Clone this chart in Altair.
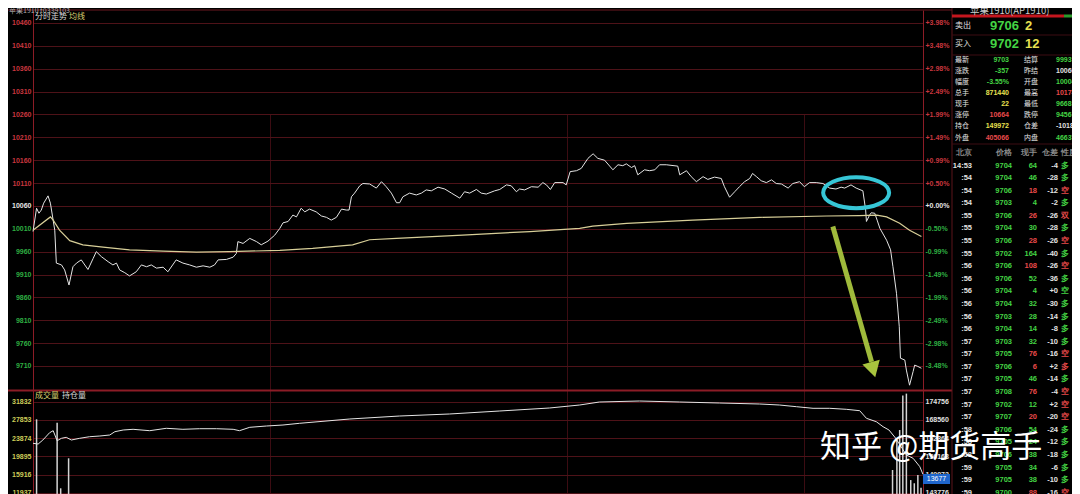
import json
import altair as alt
import pandas as pd

# ---------------- data ----------------
PREV_SETTLE = 10060
PRICE_TICKS = [10460, 10410, 10360, 10310, 10260, 10210, 10160, 10110,
               10060, 10010, 9960, 9910, 9860, 9810, 9760, 9710]
PCT_LABELS = ["+3.98%", "+3.48%", "+2.98%", "+2.49%", "+1.99%", "+1.49%", "+0.99%", "+0.50%",
              "+0.00%", "-0.50%", "-0.99%", "-1.49%", "-1.99%", "-2.49%", "-2.98%", "-3.48%"]
VOL_TICKS = [31832, 27853, 23874, 19895, 15916, 11937]
OI_TICKS = [174756, 168560, 162364, 156168, 149972, 143776]
SESSION_LINES = [60, 135, 195]          # minutes from open (10:00, 11:30/13:30, 14:30)

# (minute, price) of the tick line
PRICE_POINTS = [
    (0, 10004), (0.9, 10055), (1.5, 10044), (2.1, 10051), (2.7, 10066), (3.8, 10082), (4.4, 10066),
    (5.5, 10007), (5.9, 9935), (7.2, 9931), (8.0, 9920), (9.1, 9887), (10.1, 9927), (11.0, 9935),
    (12.2, 9942), (13.9, 9921), (15.2, 9945), (16.0, 9960), (17.3, 9949), (19.0, 9938), (20.2, 9931),
    (21.1, 9935), (21.9, 9920), (23.2, 9914), (24.4, 9907), (26.1, 9916), (27.4, 9931), (28.7, 9927),
    (29.9, 9931), (31.2, 9924), (32.9, 9926), (34.1, 9916), (36.2, 9942), (37.9, 9935), (39.6, 9931),
    (41.3, 9926), (43.0, 9929), (44.7, 9926), (45.9, 9931), (46.8, 9942), (48.9, 9943), (50.6, 9948),
    (51.4, 9956), (51.8, 9982), (53.1, 9978), (54.8, 9989), (56.5, 9982), (57.7, 9975), (59.4, 9983),
    (61.1, 9996), (62.4, 10011), (63.2, 10023), (64.5, 10026), (65.7, 10040), (66.6, 10036),
    (67.8, 10055), (68.7, 10047), (69.9, 10053), (71.6, 10047), (72.9, 10038), (74.2, 10035),
    (75.4, 10029), (76.7, 10035), (78.0, 10053), (79.2, 10051), (79.9, 10051), (80.5, 10080),
    (81.3, 10088), (82.6, 10104), (83.4, 10109), (85.1, 10108), (86.8, 10099), (88.1, 10113),
    (89.3, 10102), (90.6, 10088), (91.9, 10067), (92.7, 10067), (93.5, 10080), (95.2, 10088),
    (96.9, 10084), (98.2, 10088), (99.4, 10095), (100.7, 10093), (102.4, 10101), (104.1, 10097),
    (105.8, 10088), (107.9, 10077), (109.1, 10091), (110.4, 10088), (112.1, 10096), (113.3, 10088),
    (114.6, 10086), (116.7, 10093), (118.0, 10096), (119.7, 10106), (120.9, 10104), (122.2, 10091),
    (123.0, 10097), (124.3, 10095), (126.0, 10102), (127.7, 10101), (128.9, 10111), (129.8, 10106),
    (130.8, 10096), (131.9, 10111), (134.0, 10111), (134.8, 10106), (135.8, 10135), (137.4, 10137),
    (138.6, 10142), (140.3, 10164), (141.6, 10174), (142.8, 10164), (144.5, 10160), (146.6, 10139),
    (147.9, 10150), (149.1, 10148), (150.0, 10152), (151.3, 10144), (152.1, 10148), (152.9, 10128),
    (154.6, 10139), (155.9, 10137), (157.2, 10139), (158.4, 10150), (160.1, 10150), (163.0, 10147),
    (163.5, 10128), (165.2, 10137), (166.4, 10124), (167.7, 10113), (169.4, 10124), (170.6, 10118),
    (172.3, 10123), (174.0, 10120), (174.8, 10102), (176.1, 10079), (177.4, 10091), (178.6, 10102),
    (179.9, 10113), (181.2, 10120), (181.9, 10131), (182.9, 10124), (184.1, 10115), (185.4, 10111),
    (186.7, 10117), (187.9, 10109), (189.2, 10108), (190.9, 10099), (192.1, 10109), (193.8, 10113),
    (195.0, 10102), (196.3, 10111), (198.0, 10111), (199.7, 10109), (201.4, 10099), (203.0, 10097),
    (204.3, 10101), (205.2, 10099), (206.8, 10106), (208.1, 10099), (209.8, 10093), (210.5, 10051),
    (210.7, 10026), (211.5, 10040), (211.9, 10045), (212.8, 10044), (213.4, 10029), (214.1, 10011),
    (215.8, 9985), (216.8, 9964), (217.4, 9927), (218.3, 9869), (219.0, 9796), (219.3, 9727),
    (220.4, 9723), (220.8, 9701), (221.6, 9668), (222.5, 9698), (222.9, 9712), (223.7, 9709),
    (224.6, 9705),
]
# (minute, average price) – 均线
AVG_POINTS = [
    (0, 10007), (4.4, 10036), (5.1, 10029), (6.7, 10007), (9.3, 9984), (12.6, 9975), (17.7, 9970),
    (24.4, 9964), (32.9, 9961), (41.3, 9959), (49.7, 9960), (62.4, 9963), (70.7, 9967), (80.8, 9975),
    (85.1, 9986), (91.9, 9989), (108.6, 9996), (125.6, 10004), (138.2, 10011), (141.5, 10016),
    (150.1, 10022), (166.8, 10029), (183.7, 10035), (200.6, 10038), (208.9, 10039), (213.3, 10040),
    (215.8, 10036), (219.1, 10022), (221.6, 10007), (224.6, 9993),
]
# (minute, volume) – 成交量 bars that are visible
VOL_POINTS = [
    (0.9, 27984), (6.1, 27241), (7.0, 12900), (9.0, 19458), (217.3, 16900), (218.4, 23459),
    (219.1, 25640), (219.9, 33200), (220.8, 33600), (221.9, 14700), (222.8, 14000), (223.7, 15800),
    (224.5, 13000),
]
# (minute, open interest) – 持仓量
OI_POINTS = [
    (0, 160594), (1.3, 160350), (2.5, 161714), (4.2, 164203), (5.1, 164884), (6.1, 161479),
    (7.2, 162296), (8.4, 162636), (9.7, 161714), (11.8, 162296), (14.3, 162840), (16.9, 163079),
    (19.4, 163419), (20.7, 164543), (22.8, 165122), (25.3, 165360), (29.5, 164884), (33.7, 165700),
    (37.9, 165360), (42.1, 165564), (46.4, 165564), (50.6, 165360), (52.2, 164884), (54.8, 166040),
    (59.0, 166483), (63.2, 166823), (67.4, 167402), (80.1, 168870), (92.7, 169888), (105.3, 170570),
    (118.0, 171591), (130.6, 172612), (138.2, 173633), (143.2, 174654), (153.3, 174994),
    (163.5, 174654), (173.6, 174313), (183.7, 173973), (188.7, 173633), (193.0, 173054),
    (197.2, 172509), (201.4, 172509), (205.6, 172169), (209.0, 171692), (210.7, 169105),
    (213.2, 167947), (214.9, 166245), (216.4, 165122), (218.1, 162296), (220.8, 156610),
    (222.5, 155486), (224.2, 152630), (225, 150000),
]

# annotation anchors (minute, price)
ELLIPSE_AT = (208.1, 10089)
ARROW_FROM = (202.2, 10015)
ARROW_TO = (212.0, 9719)
ARROW_HEAD = (212.4, 9702)

# quote panel
QUOTE_LABELS = ["卖出", "买入"]
QUOTE_PRICES = ["9706", "9702"]
QUOTE_QTY = ["2", "12"]
STAT_LABELS_L = ["最新", "涨跌", "幅度", "总手", "现手", "涨停", "持仓", "外盘"]
STAT_VALUES_L = ["9703", "-357", "-3.55%", "871440", "22", "10664", "149972", "405066"]
STAT_KIND_L = ["g", "g", "g", "y", "y", "r", "y", "r"]
STAT_LABELS_R = ["结算", "昨结", "开盘", "最高", "最低", "跌停", "仓差", "内盘"]
STAT_VALUES_R = ["9993", "10060", "10004", "10174", "9668", "9456", "-10186", "466374"]
STAT_KIND_R = ["g", "w", "g", "r", "g", "g", "w", "g"]
TICK_HEADER = ["北京", "价格", "现手", "仓差", "性质"]
TICK_TIME = ["14:53", ":54", ":54", ":54", ":55", ":55", ":55", ":55", ":56", ":56", ":56", ":56",
             ":56", ":56", ":57", ":57", ":57", ":57", ":57", ":57", ":57", ":58", ":58", ":58",
             ":59", ":59", ":59"]
TICK_PRICE = ["9704", "9704", "9706", "9703", "9706", "9704", "9706", "9702", "9706", "9706", "9704",
              "9704", "9703", "9704", "9703", "9705", "9706", "9705", "9708", "9702", "9707", "9706",
              "9705", "9706", "9705", "9705", "9700"]
TICK_VOL = ["64", "46", "18", "4", "26", "30", "28", "164", "108", "52", "4", "32", "28", "14", "32",
            "76", "6", "46", "76", "12", "20", "54", "24", "38", "34", "38", "88"]
TICK_DIFF = ["-4", "-28", "-12", "-2", "-26", "-28", "-26", "-40", "-26", "-36", "+0", "-30", "-14",
             "-8", "-10", "-16", "+2", "-14", "-4", "+2", "-20", "-24", "-12", "-18", "-6", "-10", "-16"]
TICK_NATURE = ["多", "多", "空", "多", "双", "多", "空", "多", "空", "多", "空", "多", "多", "多", "多",
               "空", "多", "多", "空", "空", "空", "多", "多", "多", "多", "多", "空"]
TICK_VOL_RED = [0, 0, 1, 0, 1, 0, 1, 0, 1, 0, 0, 0, 0, 0, 0, 1, 1, 0, 1, 0, 1, 0, 0, 0, 0, 0, 1]
TICK_NAT_RED = [0, 0, 1, 0, 1, 0, 1, 0, 1, 0, 0, 0, 0, 0, 0, 1, 1, 0, 1, 1, 1, 0, 0, 0, 0, 0, 1]

# ---------------- style ----------------
BG = "#000000"
GRID = "#4e1218"
VGRID = "#3c0c12"
AXIS_RED = "#8c1c26"
UP = "#c8363e"
DOWN = "#2fae42"
FLAT = "#e6e6e6"
T_GREEN = "#44d444"
T_RED = "#e84a4a"
T_YEL = "#e8e050"
T_WHITE = "#e2e2e2"
T_GRAY = "#8c8c8c"
KIND = {"g": T_GREEN, "r": T_RED, "y": T_YEL, "w": T_WHITE}
NUM_FONT = "Liberation Sans"
CJK_FONT = "Noto Sans CJK SC"

TOTAL_W = 1064           # svg width that fits inside the page body
W, H = 890, 484          # plot area: page x 33..923, y 10..494
OX, OY = 33, 10          # page position of the plot origin
RIGHT_EDGE = 8 + TOTAL_W  # last visible page x


def px(x):
    return x - OX


def py(y):
    return y - OY


ONE = pd.DataFrame({"k": [0]})

x_scale = alt.Scale(domain=[0, 225], nice=False, zero=False)
p_scale = alt.Scale(domain=[9657.5, 10488.4], range=[380, 0], nice=False, zero=False)
v_scale = alt.Scale(domain=[0, 34390], range=[537.3, 380], nice=False, zero=False)
oi_scale = alt.Scale(domain=[143337, 178739], range=[484, 380], nice=False, zero=False)

x_axis = alt.Axis(values=SESSION_LINES, grid=True, gridColor=VGRID, gridWidth=1, labels=False,
                  ticks=False, domain=False, title=None)
x_enc = alt.X("t:Q", scale=x_scale, axis=x_axis)

color_expr = (f"datum.value > {PREV_SETTLE} ? '{UP}' : "
              f"(datum.value < {PREV_SETTLE} ? '{DOWN}' : '{FLAT}')")
common_axis = dict(title=None, ticks=False, labelFont=NUM_FONT, labelFontSize=7,
                   labelFontWeight="bold", labelPadding=2, labelOverlap=False,
                   domainColor=AXIS_RED, domainWidth=1)

price_axis = alt.Axis(orient="left", values=PRICE_TICKS, format="d", grid=True, gridColor=GRID,
                      labelColor={"expr": color_expr}, **common_axis)
pct_expr = f"{json.dumps(PCT_LABELS)}[indexof({json.dumps(PRICE_TICKS)}, datum.value)]"
pct_axis = alt.Axis(orient="right", values=PRICE_TICKS, grid=False, labelExpr=pct_expr,
                    labelColor={"expr": color_expr}, **common_axis)
vol_axis = alt.Axis(orient="left", values=VOL_TICKS, format="d", grid=True, gridColor=GRID,
                    labelColor="#cccc58", **common_axis)
oi_axis = alt.Axis(orient="right", values=OI_TICKS, format="d", grid=False,
                   labelColor="#e0e0e0", **common_axis)

price_df = pd.DataFrame(PRICE_POINTS, columns=["t", "p"])
avg_df = pd.DataFrame(AVG_POINTS, columns=["t", "p"])
vol_df = pd.DataFrame(VOL_POINTS, columns=["t", "v"])
vol_df["base"] = 0
oi_df = pd.DataFrame(OI_POINTS, columns=["t", "oi"])

layers = []

# main price line (left price axis + grids)
layers.append(alt.Chart(price_df).mark_line(color="#e4e4e4", strokeWidth=1).encode(
    x=x_enc, y=alt.Y("p:Q", scale=p_scale, axis=price_axis)))
# average line (right percentage axis)
layers.append(alt.Chart(avg_df).mark_line(color="#d8cf98", strokeWidth=1.2).encode(
    x=x_enc, y=alt.Y("p:Q", scale=p_scale, axis=pct_axis)))
# volume bars
layers.append(alt.Chart(vol_df).mark_rule(color="#d4d4d4", strokeWidth=1.5).encode(
    x=x_enc, y=alt.Y("v:Q", scale=v_scale, axis=vol_axis), y2="base:Q"))
# open interest line
layers.append(alt.Chart(oi_df).mark_line(color="#e4e4e4", strokeWidth=1).encode(
    x=x_enc, y=alt.Y("oi:Q", scale=oi_scale, axis=oi_axis)))


def rule_h(y, x1, x2, color, w=1.0):
    return alt.Chart(ONE).mark_rule(color=color, strokeWidth=w).encode(
        x=alt.value(px(x1)), x2=alt.value(px(x2)), y=alt.value(py(y)))


def rule_v(x, y1, y2, color, w=1.0):
    return alt.Chart(ONE).mark_rule(color=color, strokeWidth=w).encode(
        x=alt.value(px(x)), y=alt.value(py(y1)), y2=alt.value(py(y2)))


def label(text, x, y, color, size=8, align="left", font=CJK_FONT, weight="normal"):
    return alt.Chart(pd.DataFrame({"s": [text]})).mark_text(
        align=align, baseline="middle", color=color, fontSize=size, font=font,
        fontWeight=weight).encode(x=alt.value(px(x)), y=alt.value(py(y)), text="s:N")


# frame lines
layers.append(rule_h(10, 0, 952, "#6c1820", 1))
layers.append(rule_h(390.5, 0, 952, AXIS_RED, 2))
layers.append(rule_v(952, 0, 494, "#5c141a", 1))
layers.append(rule_h(16, 952, RIGHT_EDGE - 8, "#c4161e", 3))
layers.append(rule_h(16, RIGHT_EDGE - 8, RIGHT_EDGE, "#2c9a2c", 3))
layers.append(rule_h(35, 952, RIGHT_EDGE, "#3c0c12", 1))
layers.append(rule_h(55, 952, RIGHT_EDGE, "#3c0c12", 1))
layers.append(rule_h(144, 952, RIGHT_EDGE, "#3c0c12", 1))

# header texts
layers.append(label("苹果1910 t0339103", 9, 11, "#b0b0b0", size=7))
layers.append(label("分时走势", 35, 17, "#d8d8d8", size=8))
layers.append(label("均线", 69, 17, "#d8d070", size=8))
layers.append(label("成交量", 35, 396, "#d8d070", size=8))
layers.append(label("持仓量", 62, 396, "#d8d8d8", size=8))

# annotations (data coordinates)
ELLIPSE_PATH = ("M -1 0 C -1 -0.26 -0.55 -0.47 0 -0.47 C 0.55 -0.47 1 -0.26 1 0 "
                "C 1 0.26 0.55 0.47 0 0.47 C -0.55 0.47 -1 0.26 -1 0 Z")
ell_df = pd.DataFrame([ELLIPSE_AT], columns=["t", "p"])
layers.append(alt.Chart(ell_df).mark_point(shape=ELLIPSE_PATH, size=4356, filled=False,
                                           stroke="#36c6d6", strokeWidth=4, opacity=1).encode(
    x=x_enc, y=alt.Y("p:Q", scale=p_scale, axis=None)))
arr_df = pd.DataFrame({"t": [ARROW_FROM[0]], "p": [ARROW_FROM[1]],
                       "t2": [ARROW_TO[0]], "p2": [ARROW_TO[1]]})
layers.append(alt.Chart(arr_df).mark_rule(color="#a8c43e", strokeWidth=5, opacity=0.95).encode(
    x=x_enc, y=alt.Y("p:Q", scale=p_scale, axis=None), x2="t2:Q", y2="p2:Q"))
head_df = pd.DataFrame([ARROW_HEAD], columns=["t", "p"])
layers.append(alt.Chart(head_df).mark_point(shape="triangle-down", size=324, filled=True,
                                            fill="#a8c43e", angle=344.4, opacity=1).encode(
    x=x_enc, y=alt.Y("p:Q", scale=p_scale, axis=None)))

# blue current-value tag on the OI axis
layers.append(alt.Chart(ONE).mark_rect(color="#1f66cc").encode(
    x=alt.value(px(923)), x2=alt.value(px(950)), y=alt.value(py(474)), y2=alt.value(py(484))))
layers.append(label("13677", 936.5, 479, "#ffffff", size=7, align="center", font=NUM_FONT))

# ---------------- quote panel ----------------
layers.append(label("苹果1910(AP1910)", 970, 10.5, "#cfcfcf", size=9.5))

quote_df = pd.DataFrame({"row": [0, 1], "lab": QUOTE_LABELS, "pr": QUOTE_PRICES, "q": QUOTE_QTY})
q_y = alt.Y("row:Q", scale=alt.Scale(domain=[0, 1], range=[py(26), py(44)]), axis=None)
layers.append(alt.Chart(quote_df).mark_text(align="left", baseline="middle", color=T_WHITE,
                                            fontSize=8, font=CJK_FONT).encode(
    x=alt.value(px(955)), y=q_y, text="lab:N"))
layers.append(alt.Chart(quote_df).mark_text(align="right", baseline="middle", color=T_GREEN,
                                            fontSize=13, font=NUM_FONT, fontWeight="bold").encode(
    x=alt.value(px(1019)), y=q_y, text="pr:N"))
layers.append(alt.Chart(quote_df).mark_text(align="left", baseline="middle", color=T_YEL,
                                            fontSize=13, font=NUM_FONT, fontWeight="bold").encode(
    x=alt.value(px(1025)), y=q_y, text="q:N"))

stat_df = pd.DataFrame({
    "row": list(range(8)), "l1": STAT_LABELS_L, "v1": STAT_VALUES_L,
    "c1": [KIND[k] for k in STAT_KIND_L], "l2": STAT_LABELS_R, "v2": STAT_VALUES_R,
    "c2": [KIND[k] for k in STAT_KIND_R]})
s_y = alt.Y("row:Q", scale=alt.Scale(domain=[0, 7], range=[py(60), py(137.5)]), axis=None)
layers.append(alt.Chart(stat_df).mark_text(align="left", baseline="middle", color=T_WHITE,
                                           fontSize=7, font=CJK_FONT).encode(
    x=alt.value(px(955)), y=s_y, text="l1:N"))
layers.append(alt.Chart(stat_df).mark_text(align="right", baseline="middle", fontSize=7,
                                           font=NUM_FONT, fontWeight="bold").encode(
    x=alt.value(px(1009)), y=s_y, text="v1:N", color=alt.Color("c1:N", scale=None)))
layers.append(alt.Chart(stat_df).mark_text(align="left", baseline="middle", color=T_WHITE,
                                           fontSize=7, font=CJK_FONT).encode(
    x=alt.value(px(1024)), y=s_y, text="l2:N"))
layers.append(alt.Chart(stat_df).mark_text(align="left", baseline="middle", fontSize=7,
                                           font=NUM_FONT, fontWeight="bold").encode(
    x=alt.value(px(1056)), y=s_y, text="v2:N", color=alt.Color("c2:N", scale=None)))

n = len(TICK_TIME)
tick_df = pd.DataFrame({
    "row": [-1] + list(range(n)),
    "time": [TICK_HEADER[0]] + TICK_TIME,
    "price": [TICK_HEADER[1]] + TICK_PRICE,
    "vol": [TICK_HEADER[2]] + TICK_VOL,
    "diff": [TICK_HEADER[3]] + TICK_DIFF,
    "nat": [TICK_HEADER[4]] + TICK_NATURE,
    "ct": [T_GRAY] + [T_WHITE] * n,
    "cp": [T_GRAY] + [T_GREEN] * n,
    "cv": [T_GRAY] + [T_RED if r else T_GREEN for r in TICK_VOL_RED],
    "cd": [T_GRAY] + [T_WHITE] * n,
    "cn": [T_GRAY] + [T_RED if r else T_GREEN for r in TICK_NAT_RED],
})
t_y = alt.Y("row:Q", scale=alt.Scale(domain=[-1, n - 1], range=[py(153), py(492.7)]), axis=None)
for field, col, xpos, align in [("time", "ct", 972, "right"), ("price", "cp", 1012, "right"),
                                ("vol", "cv", 1037, "right"), ("diff", "cd", 1058, "right"),
                                ("nat", "cn", 1061, "left")]:
    layers.append(alt.Chart(tick_df).mark_text(align=align, baseline="middle", fontSize=7.5,
                                               font=NUM_FONT, fontWeight="bold").encode(
        x=alt.value(px(xpos)), y=t_y, text=f"{field}:N", color=alt.Color(f"{col}:N", scale=None)))

# watermark
layers.append(label("知乎 @期货高手", 820, 448, "#ffffff", size=31))

chart = alt.layer(*layers).resolve_scale(y="independent").properties(
    width=W, height=H,
    autosize=alt.AutoSizeParams(type="none"),
    padding={"left": OX - 8, "top": OY - 8, "right": TOTAL_W - (OX - 8) - W, "bottom": 0},
    background=BG,
).configure_view(stroke=None)

chart.save("out.html", embed_options={"renderer": "svg", "actions": False})
